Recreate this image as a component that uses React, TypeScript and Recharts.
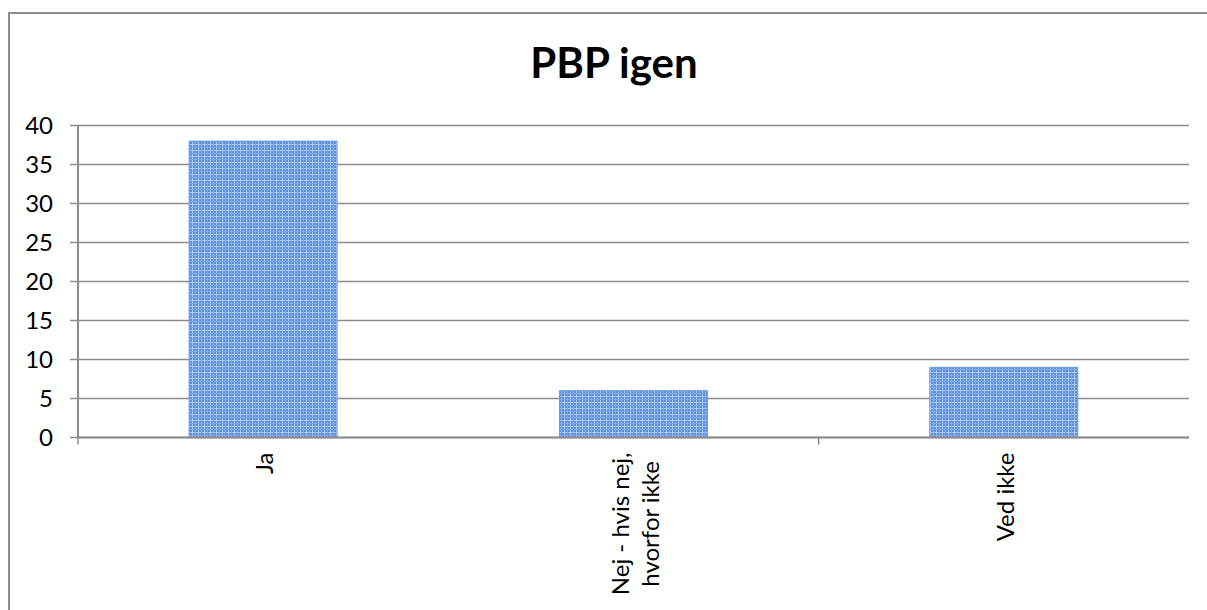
import React from "react";
import { BarChart, Bar, XAxis, YAxis, CartesianGrid } from "recharts";

const title = "PBP igen";
const categories = ["Ja", "Nej - hvis nej,\nhvorfor ikke", "Ved ikke"];
const values = [38, 6, 9];
const yTicks = [0, 5, 10, 15, 20, 25, 30, 35, 40];
const tickMarkInterval = 2;

const data = categories.map((c, i) => ({ name: c, value: values[i] }));

const FONT = "Lato";
const LABEL_SIZE = 24;
const GRAY = "#8c8c8c";

let measureCtx: CanvasRenderingContext2D | null = null;
function measure(text: string): number {
  if (!measureCtx) {
    const c = document.createElement("canvas");
    measureCtx = c.getContext("2d");
  }
  if (!measureCtx) return text.length * 11;
  measureCtx.font = `${LABEL_SIZE}px ${FONT}`;
  return measureCtx.measureText(text).width;
}

const CatTick = (props: any) => {
  const { x, y, payload, width, visibleTicksCount, index } = props;
  const lines: string[] = String(payload.value).split("\n");
  const maxLen = Math.max(...lines.map(measure));
  const gapTop = 15;
  const n = lines.length;
  const count = visibleTicksCount || categories.length;
  const bw = typeof width === "number" ? width / count : 0;
  return (
    <g>
      {bw > 0 && index % tickMarkInterval === 0 && (
        <line
          x1={x - bw / 2}
          x2={x - bw / 2}
          y1={y}
          y2={y + 7}
          stroke={GRAY}
          strokeWidth={1.5}
        />
      )}
      <g transform={`translate(${x},${y})`}>
        {lines.map((ln, i) => (
          <text
            key={i}
            transform="rotate(-90)"
            x={-(gapTop + maxLen / 2)}
            y={10 + (i - (n - 1) / 2) * 30}
            textAnchor="middle"
            fontFamily={FONT}
            fontSize={LABEL_SIZE}
            fill="#000"
          >
            {ln}
          </text>
        ))}
      </g>
    </g>
  );
};

export default function App() {
  return (
    <div
      style={{
        position: "absolute",
        left: 0,
        top: 0,
        width: 1207,
        height: 610,
        overflow: "hidden",
        background: "#fff",
      }}
    >
      <svg
        width={1207}
        height={610}
        style={{ position: "absolute", left: 0, top: 0 }}
      >
        <rect
          x={9}
          y={13}
          width={1220}
          height={640}
          fill="#fff"
          stroke={GRAY}
          strokeWidth={2}
        />
        <text
          x={614}
          y={78}
          textAnchor="middle"
          fontFamily={FONT}
          fontWeight="bold"
          fontSize={42}
          fill="#000"
        >
          {title}
        </text>
      </svg>
      <div style={{ position: "absolute", left: 0, top: 0 }}>
        <BarChart
          width={1207}
          height={610}
          data={data}
          margin={{ top: 125.5, right: 18, bottom: 0, left: 0 }}
          barCategoryGap="30%"
        >
          <defs>
            <pattern
              id="barGrid"
              width="6"
              height="6"
              patternUnits="userSpaceOnUse"
            >
              <rect width="6" height="6" fill="#5b8fd9" />
              <path d="M0 0.5H6M0.5 0V6" stroke="#aecaf2" strokeWidth="1" />
              <path d="M0 3.5H6M3.5 0V6" stroke="#82abe8" strokeWidth="1" />
            </pattern>
          </defs>
          <CartesianGrid vertical={false} stroke={GRAY} strokeWidth={1.5} />
          <XAxis
            dataKey="name"
            type="category"
            axisLine={{ stroke: GRAY, strokeWidth: 2 }}
            tickLine={false}
            tickSize={0}
            tickMargin={0}
            tick={<CatTick />}
            interval={0}
            height={172.5}
          />
          <YAxis
            width={78}
            domain={[0, 40]}
            ticks={yTicks}
            interval={0}
            axisLine={{ stroke: GRAY, strokeWidth: 2 }}
            tickLine={{ stroke: GRAY, strokeWidth: 1.5 }}
            tickSize={8}
            tickMargin={17}
            tick={{ fontFamily: FONT, fontSize: LABEL_SIZE, fill: "#000" }}
          />
          <Bar
            dataKey="value"
            fill="url(#barGrid)"
            stroke="#6a9be0"
            strokeWidth={1}
            isAnimationActive={false}
          />
        </BarChart>
      </div>
    </div>
  );
}
